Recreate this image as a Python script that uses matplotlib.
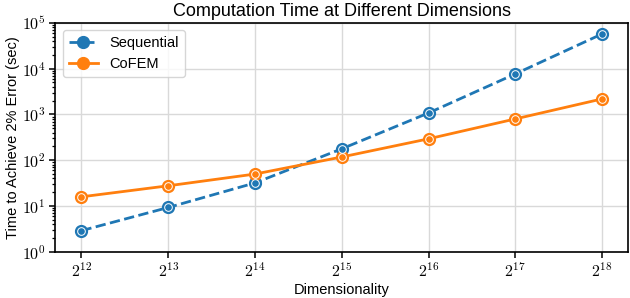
import matplotlib
matplotlib.use('Agg')
import matplotlib.pyplot as plt
import numpy as np

plt.rcParams['font.family'] = 'Liberation Sans'
plt.rcParams['mathtext.fontset'] = 'cm'

# data
dims = [2**12, 2**13, 2**14, 2**15, 2**16, 2**17, 2**18]
sequential = [2.9, 9.3, 32, 178, 1080, 7700, 57500]
cofem = [15.9, 27.7, 50, 118, 294, 800, 2190]

blue = '#1f77b4'
orange = '#ff7f0e'

fig, ax = plt.subplots(figsize=(6.3, 2.98), dpi=100)

# outer circle plus a smaller white-rimmed circle gives the ringed marker
ax.plot(dims, sequential, '--', color=blue, lw=2, marker='o', ms=8.5,
        mfc=blue, mec=blue, label='Sequential', zorder=3)
ax.plot(dims, sequential, ls='none', marker='o', ms=5.5, mfc=blue,
        mec='white', mew=0.7, zorder=4)
ax.plot(dims, cofem, '-', color=orange, lw=2, marker='o', ms=8.5,
        mfc=orange, mec=orange, label='CoFEM', zorder=3)
ax.plot(dims, cofem, ls='none', marker='o', ms=5.5, mfc=orange,
        mec='white', mew=0.7, zorder=4)

ax.set_xscale('log', base=2)
ax.set_yscale('log')
ax.set_ylim(1, 1e5)
ax.set_xticks(dims)
ax.set_xticklabels([r'$2^{%d}$' % int(np.log2(d)) for d in dims])
ax.set_yticks([10**i for i in range(6)])
ax.set_yticklabels([r'$10^{%d}$' % i for i in range(6)])
ax.yaxis.set_minor_locator(matplotlib.ticker.LogLocator(base=10, subs=np.arange(2, 10), numticks=20))
ax.yaxis.set_minor_formatter(matplotlib.ticker.NullFormatter())
ax.xaxis.set_minor_locator(matplotlib.ticker.NullLocator())
ax.tick_params(labelsize=11.5)
ax.tick_params(which='major', length=4, width=1.1, pad=3)
ax.tick_params(which='minor', length=2.5, width=0.9)

ax.grid(True, which='major', color='#d9d9d9', lw=1)
ax.set_axisbelow(True)
for s in ax.spines.values():
    s.set_linewidth(1.2)

ax.set_xlabel('Dimensionality', fontsize=10.5, labelpad=2)
ax.set_ylabel('Time to Achieve 2% Error (sec)', fontsize=10.5, labelpad=1)
ax.set_title('Computation Time at Different Dimensions', fontsize=13, pad=5)

ax.legend(loc='upper left', fontsize=10.5)

fig.subplots_adjust(left=0.088, right=0.997, top=0.923, bottom=0.155)
plt.savefig('out.png')
